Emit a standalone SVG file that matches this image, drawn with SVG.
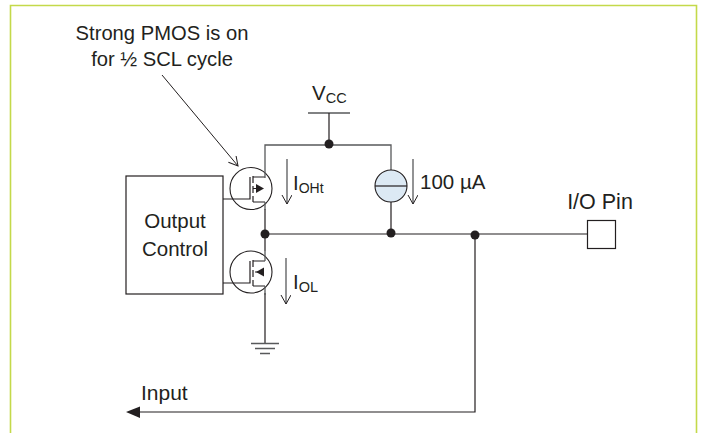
<svg xmlns="http://www.w3.org/2000/svg" width="701" height="433" viewBox="0 0 701 433">
<style>
text{font-family:"Liberation Sans",Arial,sans-serif;font-size:20.5px;fill:#231f20}
.sub{font-size:14.500px}
.w{fill:none;stroke:#231f20;stroke-width:1.2}
.g{fill:none;stroke:#58595b;stroke-width:1.3}
.d{fill:#231f20;stroke:none}
</style>
<defs>
<marker id="open" markerWidth="12" markerHeight="12" refX="10" refY="5" orient="auto" markerUnits="userSpaceOnUse"><path d="M1 0L10 5L1 10" fill="none" stroke="#231f20" stroke-width="1"/></marker>
</defs>
<rect width="701" height="433" fill="#fff"/>
<path d="M10.5 433V5.5H696.5V433" fill="none" stroke="#c4d94a" stroke-width="1.6"/>
<g id="connectors">
<path class="g" d="M265 167V145H391V170M308 113H350"/>
<path class="w" d="M329 113V145M391 202V234M265 209V251M265 293V343M265 234H587M475 234V412H140"/>
<path class="g" d="M251 343.5H279M255 348.500H275M260 353.500H270"/>
<path d="M140 406.500V418L126 412Z" class="d"/>
<path d="M162 75L238 166" fill="none" stroke="#231f20" stroke-width="1" marker-end="url(#open)"/>
<path d="M287 159V204" class="g" marker-end="url(#open)"/>
<path d="M286 258V304" class="g" marker-end="url(#open)"/>
<path d="M413 159V204" class="g" marker-end="url(#open)"/>
<circle class="d" cx="329" cy="144" r="4.500"/>
<circle class="d" cx="391" cy="233" r="4.500"/>
<circle class="d" cx="265" cy="234" r="4.500"/>
<circle class="d" cx="475" cy="235" r="4.500"/>
</g>
<g id="output-control"><rect x="126" y="176" width="97" height="118" fill="none" stroke="#231f20" stroke-width="1.2"/><text x="175" y="228" text-anchor="middle">Output</text><text x="175" y="256" text-anchor="middle">Control</text></g>
<g id="pmos">
<circle cx="251" cy="188.500" r="21" fill="#fff" stroke="#231f20" stroke-width="1.100"/>
<path class="w" d="M223 199H250V177M253 176V183M253 186V193M253 196V202M253 177H265M253 202H265M253 188.500H262"/>
<path class="d" d="M256 184L264 188.500L256 193Z"/>
<path class="g" d="M265 167V178M265 202V210"/>
</g>
<g id="nmos">
<circle cx="251" cy="272" r="21" fill="#fff" stroke="#231f20" stroke-width="1.100"/>
<path class="w" d="M223 283H250V261M253 260V267M253 270V277M253 280V286M253 261H265M253 286H265M255 272H264"/>
<path class="d" d="M264 267.500L256 272L264 276.500Z"/>
<path class="g" d="M265 251V261M265 286V295"/>
</g>
<g id="current-source"><circle cx="391" cy="186" r="16" fill="#dce9f4" stroke="#231f20" stroke-width="1.100"/><path class="w" d="M375 186H407"/></g>
<g id="io-pin"><rect x="587.500" y="220.500" width="28" height="28" fill="#fff" stroke="#231f20" stroke-width="1.200"/><text x="600" y="209" text-anchor="middle" style="font-size:21.5px">I/O Pin</text></g>
<g id="labels">
<text x="162" y="40" text-anchor="middle" style="font-size:20.2px">Strong PMOS is on</text>
<text x="162" y="66" text-anchor="middle" style="font-size:20.2px">for ½ SCL cycle</text>
<text x="312" y="100">V<tspan class="sub" dy="3">CC</tspan></text>
<text x="293" y="189.500">I<tspan class="sub" dy="3" style="font-size:14px">OHt</tspan></text>
<text x="293" y="289">I<tspan class="sub" dy="3">OL</tspan></text>
<text x="420" y="189">100 µA</text>
<text x="141" y="400" style="font-size:21px">Input</text>
</g>
</svg>
